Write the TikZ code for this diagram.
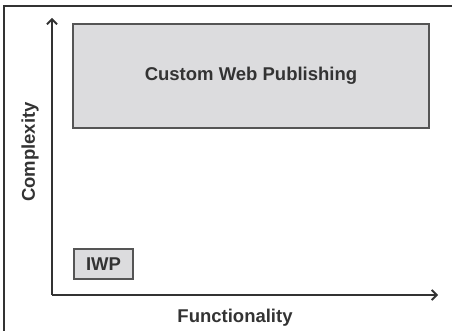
\documentclass[tikz,border=0pt]{standalone}
\usepackage{fontspec}
\setmainfont{Liberation Sans}
\usetikzlibrary{arrows.meta}
\definecolor{ink}{HTML}{333333}
\definecolor{boxline}{HTML}{555555}
\definecolor{boxfill}{HTML}{DCDCDE}
\tikzset{
  region/.style={draw=boxline, line width=1.4pt, fill=boxfill, inner sep=0pt,
    font=\fontsize{18.5}{20}\selectfont\bfseries, text=ink},
  axis/.style={draw=ink, line width=1.8pt, -{Straight Barb[length=5pt,width=10pt,line width=1.8pt]}},
  axislabel/.style={font=\fontsize{18.5}{20}\selectfont\bfseries, text=ink, inner sep=0pt},
}
\begin{document}
\begin{tikzpicture}[x=1pt, y=-1pt]
  \useasboundingbox (0,0) rectangle (452,331);
  \begin{scope}
    \clip (0,0) rectangle (452,331);
    % outer frame, running off the right and bottom edges
    \draw[ink, line width=1.6pt] (4,345) -- (4,6) -- (470,6);
  \end{scope}

  % axes
  \coordinate (origin) at (52,295);
  \coordinate (ytop) at (52,18);
  \coordinate (xend) at (438,295);
  \draw[axis] (origin) -- (ytop);
  \draw[axis] (origin) -- (xend);

  % regions
  \node[region, minimum width=356pt, minimum height=104pt] (cwp) at (251,76) {Custom Web Publishing};
  \node[region, minimum width=59pt, minimum height=30pt] (iwp) at (103.5,264) {IWP};

  % axis labels
  \node[axislabel, rotate=90] (ylab) at (30,152) {Complexity};
  \node[axislabel] (xlab) at (235,318) {Functionality};
\end{tikzpicture}
\end{document}
